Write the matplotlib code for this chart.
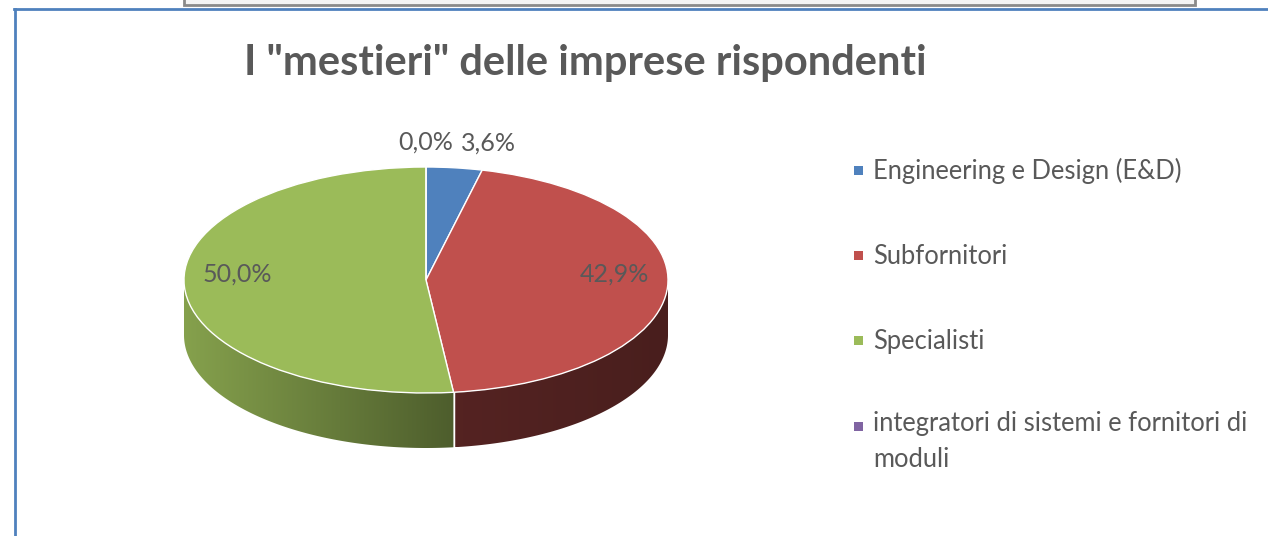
import numpy as np
import matplotlib
matplotlib.use("Agg")
import matplotlib.pyplot as plt
from matplotlib.patches import Polygon, Rectangle
from matplotlib.lines import Line2D
from matplotlib.colors import to_rgb

# data
categories = [
    "Engineering e Design (E&D)",
    "Subfornitori",
    "Specialisti",
    "integratori di sistemi e fornitori di\nmoduli",
]
shares = [3.6, 42.9, 50.0, 0.0]
pct_labels = ["3,6%", "42,9%", "50,0%", "0,0%"]
title = 'I "mestieri" delle imprese rispondenti'

colors = ["#4F81BD", "#C0504D", "#9BBB59", "#8064A2"]
# shading of the side wall, left -> right, as a factor of the base colour
side_shade = [(0.6, 0.5), (0.44, 0.38), (0.86, 0.5), (0.6, 0.5)]
text_color = "#595959"

W, H = 1268, 536
fig = plt.figure(figsize=(W / 100, H / 100), dpi=100)
plt.rcParams["font.family"] = ["Lato", "DejaVu Sans"]

# pie geometry (pixels): centre of top face, radii, thickness
cx, cy, rx, ry, depth = 426, 280, 242, 113, 55
xlim = (-1.3, 1.3)
ylim = (-1.8, 1.3)
ax_left = cx + xlim[0] * rx
ax_w = (xlim[1] - xlim[0]) * rx
ax_top = cy - ylim[1] * ry
ax_h = (ylim[1] - ylim[0]) * ry
ax = fig.add_axes([ax_left / W, 1 - (ax_top + ax_h) / H, ax_w / W, ax_h / H])

wedges, _ = ax.pie(shares, colors=colors, startangle=90, counterclock=False,
                   wedgeprops=dict(edgecolor="white", linewidth=1.0, zorder=3))
ax.set_aspect("auto")

# side walls of the 3d pie: a horizontal gradient clipped to the wall outline
d = depth / ry
for w, base, (s0, s1) in zip(wedges, colors, side_shade):
    t = np.radians(np.linspace(w.theta1, w.theta2, 400))
    t = t[np.sin(t) <= 0]
    if len(t) < 2:
        continue
    xs, ys = np.cos(t), np.sin(t)
    outline = np.vstack([np.column_stack([xs, ys]),
                         np.column_stack([xs[::-1], ys[::-1] - d])])
    wall = Polygon(outline, closed=True, facecolor="none", edgecolor="none")
    ax.add_patch(wall)
    k = np.linspace(s0, s1, 256)
    grad = np.array(to_rgb(base))[None, None, :] * k[None, :, None]
    im = ax.imshow(grad, extent=(xs.min(), xs.max(), ys.min() - d, ys.max()),
                   aspect="auto", interpolation="bilinear", zorder=1)
    im.set_clip_path(wall)
    # seam where two wedges meet on the front
    for th in (w.theta1, w.theta2):
        a = np.radians(th)
        if np.sin(a) < -0.05:
            ax.add_line(Line2D([np.cos(a), np.cos(a)], [np.sin(a), np.sin(a) - d],
                               color="white", linewidth=0.9, zorder=2))

ax.set_xlim(*xlim)
ax.set_ylim(*ylim)
ax.axis("off")

# data labels
for w, lab in zip(wedges, pct_labels):
    mid = np.radians((w.theta1 + w.theta2) / 2)
    frac = (w.theta2 - w.theta1) / 360
    if frac > 0.1:
        x, y = 0.78 * np.cos(mid), 0.78 * np.sin(mid) + 0.1
        ha = "center"
    else:
        x, y = 1.22 * np.cos(mid), 1.22 * np.sin(mid)
        ha = "left" if x > 0.05 else "center"
    ax.text(x, y, lab, ha=ha, va="center", fontsize=18, color=text_color, zorder=5)

fig.text(585 / W, 1 - 63 / H, title, ha="center", va="center",
         fontsize=30, fontweight="bold", color=text_color)

# legend, drawn by hand so the two-line entry keeps its marker on line one
leg_baselines = [179, 264, 349, 435]
line_px = 32
for lab, col, yb in zip(categories, colors, leg_baselines):
    fig.add_artist(Rectangle((854 / W, 1 - (yb - 4) / H), 9 / W, 9 / H,
                             transform=fig.transFigure, facecolor=col,
                             edgecolor="none"))
    n_extra = lab.count("\n")
    fig.text(873 / W, 1 - (yb + n_extra * line_px) / H, lab, ha="left",
             va="baseline", fontsize=18.4, color=text_color, linespacing=1.55)

# window frame around the chart
fig.add_artist(Rectangle((184 / W, 1 - 5 / H), (1195 - 184) / W, 20 / H,
                         transform=fig.transFigure, facecolor="#f4f4f4",
                         edgecolor="#8a8a8a", linewidth=2))
fig.add_artist(Line2D([14 / W, 1], [1 - 9 / H, 1 - 9 / H], transform=fig.transFigure,
                      color="#4F81BD", linewidth=2))
fig.add_artist(Line2D([15 / W, 15 / W], [1 - 9 / H, 0], transform=fig.transFigure,
                      color="#4F81BD", linewidth=2))

fig.savefig("out.png", dpi=100)
